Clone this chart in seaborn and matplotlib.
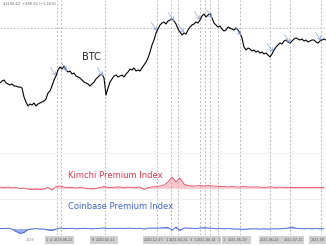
import numpy as np
import pandas as pd
import matplotlib
matplotlib.use("Agg")
import matplotlib.pyplot as plt
import matplotlib.transforms as mtransforms
from matplotlib.patches import Rectangle
import seaborn as sns

# ---------------- data ----------------
# BTC price (USD thousands), one sample every 2 bars
btc_price_k = [
    22.2, 23.4, 24.0, 22.2, 21.6, 21.0, 21.6, 20.4, 20.4, 19.8, 19.8, 19.2, 13.8, 10.8, 8.4, 9.6,
    9.0, 10.2, 8.4, 9.6, 10.2, 10.8, 11.4, 12.6, 16.2, 17.4, 20.4, 24.0, 26.4, 30.0, 31.8, 30.6,
    32.4, 30.0, 28.8, 29.4, 27.6, 28.2, 26.4, 25.8, 25.2, 24.0, 22.8, 22.2, 21.6, 20.4, 21.6, 22.8,
    24.6, 25.8, 27.0, 27.6, 25.2, 15.0, 19.2, 22.8, 24.6, 26.4, 27.0, 25.8, 26.4, 27.0, 25.8, 27.6,
    28.8, 30.6, 30.0, 31.2, 29.4, 30.0, 29.4, 31.2, 33.0, 34.8, 37.2, 40.8, 45.0, 48.0, 52.2, 54.6,
    57.0, 58.2, 58.8, 57.6, 59.4, 60.0, 60.6, 59.4, 57.6, 54.6, 52.8, 51.0, 52.2, 51.6, 54.0, 55.8,
    57.0, 57.6, 58.8, 58.2, 60.0, 62.4, 63.6, 61.8, 63.0, 63.6, 61.2, 58.2, 57.0, 55.8, 56.4, 54.6,
    53.4, 54.0, 55.8, 55.2, 54.6, 54.0, 55.2, 54.0, 52.2, 49.2, 43.8, 42.0, 43.2, 42.6, 41.4, 42.0,
    40.8, 41.4, 40.2, 40.8, 39.6, 40.2, 39.0, 37.8, 39.6, 42.0, 43.8, 45.0, 46.2, 45.6, 47.4, 48.0,
    46.8, 46.2, 47.4, 48.6, 49.2, 48.6, 48.0, 48.6, 47.4, 48.0, 46.8, 47.4, 48.0, 48.0, 46.8, 46.2,
    47.4, 48.0, 48.6, 48.0,
]
btc_bar = np.arange(0, 2 * len(btc_price_k), 2)

# Premium indices (%), one sample every 4 bars
kimchi_premium = [
    1, 0.5, 1, 0, 0.5, -0.5, 0, -1, -1.5, -1, -1.5, -1, 0.5, -2, 1.5, 2,
    1, 0.5, 0.5, 0, 0.5, 0, -0.5, -1, -0.5, 0.5, 1.5, 0.5, 0.5, 1, 1, 0.5,
    1, 0.5, 0.5, 1, -1.5, 0.5, 1, 1.5, 2, 3, 6, 11, 6, 10, 4, 2.5,
    2, 2, 2.5, 2, 2.5, 2, 2, 1.5, 1.5, 1, 1.5, 1, 1, 1.5, 1, 1,
    1, 1, 0.5, 1, 1, 0.5, 1, 0.5, 0.5, 0.5, 0.5, 0.5, 0.5, 0.5, 0.5, 0.5,
    0.5, 0.5,
]
coinbase_premium = [
    0, 0, 0.3, -0.5, -3, -5, -4, -1, -0.5, 0, -0.5, -0.5, -1.5, -2, -0.5, 0.5,
    0, 0, 0.3, -0.3, 0, 0.3, 0, -0.3, 0, 0.3, 0.5, 0, 0.3, 0, 0.3, 0,
    0.3, 0.3, 0, 0.3, -0.5, 0.3, 0.5, 0.3, 0.5, 0.8, 1, -1.5, 1.5, -2, 0.5, 0.5,
    0.3, 0, 0.5, 0.8, 0.5, 0.3, -0.3, 0, -0.3, 0, -0.3, -0.5, -0.5, -0.8, -0.5, -0.3,
    -0.3, -0.5, -0.3, -0.5, -0.3, -0.3, -0.3, 0, 0.5, 1.5, 0.3, 0, -0.3, 0, -0.3, 0,
    -0.3, 0,
]
prem_bar = np.arange(0, 4 * len(kimchi_premium), 4)

# Event markers (bar index)
event_bar = [57, 61, 105, 157, 171, 178, 200, 205, 210, 218, 240, 270, 290, 321]
arrow_bar = [56, 67, 103, 157, 174, 184, 200, 212, 241, 273, 290, 321]

# Bottom strip: tag texts with their bar positions, and the grey tag spans
tag_text = ["1", "4", "2019-06-22", "8", "2020-03-12",
            "2020-12-17", "1", "2021-02-21", "3", "1", "2021-04-14", "1",
            "1", "2021-05-19", "2021-06-22", "2021-07-21", "2021-09"]
tag_pos = [47, 50.5, 63, 93, 106,
           154, 166.5, 178.5, 191, 194.5, 206.5, 219,
           224, 237, 270, 293, 317.5]
tag_span = [(45, 74), (90, 118), (143, 221), (222, 251), (259, 304), (309, 326)]
year_label = "2019"
year_bar = 30
header_text = "43194.62  +480.92 (+1.15%)"

btc_df = pd.DataFrame({"bar": btc_bar, "price": btc_price_k})
prem_df = pd.DataFrame({"bar": prem_bar, "kimchi": kimchi_premium,
                        "coinbase": coinbase_premium})

# ---------------- style ----------------
sns.set_style("white")
plt.rcParams["font.family"] = ["DejaVu Sans"]

W, H = 326, 245
fig = plt.figure(figsize=(W / 100, H / 100), dpi=100)
fig.patch.set_facecolor("white")

def px_axes(top, bottom):
    return fig.add_axes([0, 1 - bottom / H, 1, (bottom - top) / H])

ax_b = px_axes(0, 153)
ax_k = px_axes(153, 199)
ax_c = px_axes(199, 235)

vline_kw = dict(color="#b8b8b8", lw=0.7, ls=(0, (2, 2)), zorder=0)
for ax in (ax_b, ax_k, ax_c):
    ax.set_xlim(0, 326)
    ax.set_xticks([])
    for s in ax.spines.values():
        s.set_visible(False)
    for ev in event_bar:
        ax.axvline(ev, **vline_kw)

# BTC panel
sns.lineplot(data=btc_df, x="bar", y="price", ax=ax_b, color="black", lw=0.8)
ax_b.set_ylim(-19.8, 72)
ax_b.set_yticks([55])
ax_b.set_yticklabels([])
ax_b.tick_params(length=0)
ax_b.grid(axis="y", color="#b8b8b8", lw=0.7, ls=(0, (1.5, 2)))
ax_b.set_xlabel("")
ax_b.set_ylabel("")
ax_b.text(91, 37.8, "BTC", ha="center", va="center", fontsize=7, color="#222222")
ax_b.text(0.01, 0.985, header_text, transform=ax_b.transAxes, ha="left", va="top",
          fontsize=2.6, color="#666666")
for ab in arrow_bar:
    yv = np.interp(ab, btc_bar, btc_price_k)
    ax_b.annotate("", xy=(ab, yv), xytext=(-4, 6), textcoords="offset points",
                  arrowprops=dict(arrowstyle="->,head_length=0.25,head_width=0.15",
                                  color="#8b9de3", lw=0.5, shrinkA=0, shrinkB=0))

# Kimchi panel
sns.lineplot(data=prem_df, x="bar", y="kimchi", ax=ax_k, color="#e8485f", lw=0.6)
ax_k.fill_between(prem_df["bar"], 0, prem_df["kimchi"], color="#f49aa6", alpha=0.55, lw=0)
ax_k.axhline(0, color="#f2b0b8", lw=0.5, ls=(0, (2, 2)), zorder=0)
ax_k.set_ylim(-11, 35)
ax_k.set_yticks([])
ax_k.set_xlabel("")
ax_k.set_ylabel("")
ax_k.spines["top"].set_visible(True)
ax_k.spines["top"].set_color("#ececec")
ax_k.spines["top"].set_linewidth(0.6)
ax_k.text(68, 0.5, "Kimchi Premium Index", transform=mtransforms.blended_transform_factory(
    ax_k.transData, ax_k.transAxes), ha="left", va="center", fontsize=6, color="#d9364f")

# Coinbase panel
sns.lineplot(data=prem_df, x="bar", y="coinbase", ax=ax_c, color="#3a5fd0", lw=0.6)
ax_c.fill_between(prem_df["bar"], 0, prem_df["coinbase"], color="#5a78e0", alpha=0.6, lw=0)
ax_c.set_ylim(-6.5, 29.5)
ax_c.set_yticks([])
ax_c.set_xlabel("")
ax_c.set_ylabel("")
ax_c.spines["top"].set_visible(True)
ax_c.spines["top"].set_color("#ececec")
ax_c.spines["top"].set_linewidth(0.6)
ax_c.text(68, 0.805, "Coinbase Premium Index", transform=mtransforms.blended_transform_factory(
    ax_c.transData, ax_c.transAxes), ha="left", va="center", fontsize=6, color="#3f63cf")

# Bottom date strip
strip = mtransforms.blended_transform_factory(ax_c.transData, ax_c.transAxes)
for x0, x1 in tag_span:
    ax_c.add_patch(Rectangle((x0, -0.255), x1 - x0, 0.225, transform=strip,
                             fc="#cfcfcf", ec="none", clip_on=False))
ax_c.text(year_bar, -0.14, year_label, transform=strip, ha="center", va="center",
          fontsize=2.4, color="#777777", clip_on=False)
for pos, txt in zip(tag_pos, tag_text):
    ax_c.text(pos, -0.14, txt, transform=strip, ha="center", va="center",
              fontsize=2.4, color="#555555", clip_on=False)

fig.savefig("out.png", dpi=100)
